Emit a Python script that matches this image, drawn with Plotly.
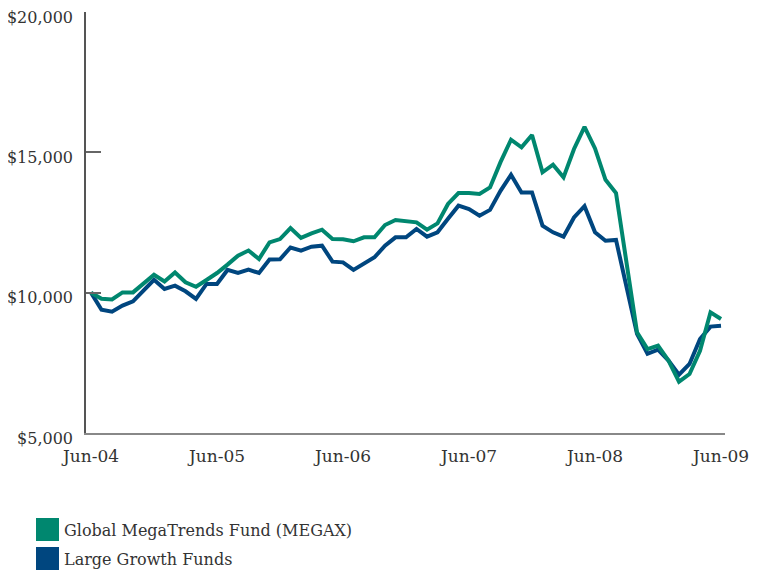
import plotly.graph_objects as go

months = list(range(61))
tick_months = [0, 12, 24, 36, 48, 60]
tick_labels = ["Jun-04", "Jun-05", "Jun-06", "Jun-07", "Jun-08", "Jun-09"]
y_ticks = [5000, 10000, 15000, 20000]
y_tick_labels = ["$5,000", "$10,000", "$15,000", "$20,000"]

megax = [10000, 9780, 9760, 10010, 10010, 10330, 10640, 10400, 10720, 10370,
         10210, 10450, 10700, 11000, 11320, 11500, 11200, 11790, 11910, 12300,
         11950, 12110, 12245, 11913, 11900, 11830, 11970, 11970, 12410, 12590,
         12530, 12505, 12245, 12470, 13160, 13550, 13550, 13520, 13750, 14650,
         15450, 15180, 15620, 14290, 14560, 14110, 15120, 15910, 15140, 14020,
         13550, 11100, 8590, 7990, 8110, 7580, 6830, 7100, 7930, 9300, 9060]

large_growth = [10000, 9390, 9320, 9540, 9690, 10100, 10460, 10130, 10250, 10050,
                9780, 10310, 10310, 10810, 10700, 10820, 10700, 11180, 11190, 11610,
                11500, 11640, 11675, 11105, 11080, 10810, 11020, 11260, 11675, 11970,
                11970, 12270, 11995, 12150, 12630, 13100, 12980, 12740, 12950, 13630,
                14200, 13570, 13570, 12390, 12150, 11995, 12680, 13080, 12150, 11850,
                11880, 10150, 8530, 7820, 7970, 7580, 7080, 7460, 8350, 8790, 8820]

series_names = ["Global MegaTrends Fund (MEGAX)", "Large Growth Funds"]
colors = ["#00876F", "#00467F"]
FONT = "DejaVu Serif"
TEXT = "#333333"

# figure is placed at an 8px page offset, so it is sized 756x562
W, H = 756, 562
L, R, T, B = 78, 39, 4, 137
PW, PH = W - L - R, H - T - B

fig = go.Figure()
fig.add_trace(go.Scatter(x=months, y=large_growth, mode="lines", name=series_names[1],
                         line=dict(color=colors[1], width=4), showlegend=False,
                         cliponaxis=False))
fig.add_trace(go.Scatter(x=months, y=megax, mode="lines", name=series_names[0],
                         line=dict(color=colors[0], width=4), showlegend=False,
                         cliponaxis=False))

fig.update_layout(
    width=W, height=H,
    margin=dict(l=L, r=R, t=T, b=B, autoexpand=False),
    paper_bgcolor="white", plot_bgcolor="white",
    font=dict(family=FONT, size=16, color=TEXT),
    xaxis=dict(range=[-0.476, 60.38], tickvals=tick_months, ticktext=tick_labels,
               showgrid=False, zeroline=False, showline=True, linecolor="#888888",
               linewidth=2, ticks="", ticklabelstandoff=7, automargin=False,
               tickfont=dict(size=17)),
    yaxis=dict(range=[4999.5, 20000.5], tickvals=y_ticks, ticktext=y_tick_labels,
               showgrid=False, zeroline=False, showline=True, linecolor="#555555",
               linewidth=1.5, ticks="inside", ticklen=15, tickcolor="#666666",
               tickwidth=1.5, ticklabelshift=5, ticklabelstandoff=8,
               ticklabeloverflow="allow", automargin=False, tickfont=dict(size=16)),
)

# custom legend (figure pixel coords -> paper coords)
for k, (name, col) in enumerate(zip(series_names, colors)):
    y0 = 510 + k * 29
    fig.add_shape(type="rect", xref="paper", yref="paper",
                  x0=(28 - L) / PW, x1=(51 - L) / PW,
                  y0=(H - B - (y0 + 23)) / PH, y1=(H - B - y0) / PH,
                  fillcolor=col, line=dict(width=0))
    fig.add_annotation(text=name, xref="paper", yref="paper",
                       x=(54 - L) / PW, y=(H - B - (y0 + 12)) / PH,
                       xanchor="left", yanchor="middle", showarrow=False,
                       font=dict(family=FONT, size=16, color=TEXT))

fig.write_html("out.html")
